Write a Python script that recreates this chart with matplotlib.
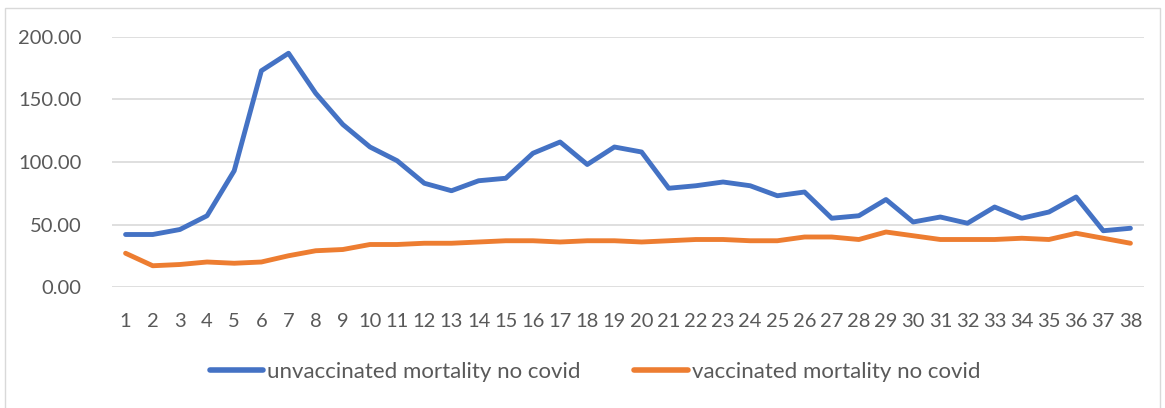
import matplotlib
matplotlib.use("Agg")
import matplotlib.pyplot as plt
from matplotlib.patches import Rectangle

weeks = list(range(1, 39))
unvaccinated = [42, 42, 46, 57, 93, 173, 187, 155, 130, 112, 101, 83, 77, 85, 87, 107,
                116, 98, 112, 108, 79, 81, 84, 81, 73, 76, 55, 57, 70, 52, 56, 51,
                64, 55, 60, 72, 45, 47]
vaccinated = [27, 17, 18, 20, 19, 20, 25, 29, 30, 34, 34, 35, 35, 36, 37, 37,
              36, 37, 37, 36, 37, 38, 38, 37, 37, 40, 40, 38, 44, 41, 38, 38,
              38, 39, 38, 43, 39, 35]
series_names = ["unvaccinated mortality no covid", "vaccinated mortality no covid"]
y_ticks = [0, 50, 100, 150, 200]

plt.rcParams["font.family"] = ["Lato", "DejaVu Sans"]
text_color = "#595959"

fig = plt.figure(figsize=(11.65, 4.08), dpi=100)
ax = fig.add_axes([112 / 1165, 1 - 287 / 408, (1144 - 112) / 1165, 250 / 408])

ax.plot(weeks, unvaccinated, color="#4472C4", lw=3.5, solid_joinstyle="round",
        solid_capstyle="round", label=series_names[0])
ax.plot(weeks, vaccinated, color="#ED7D31", lw=3.5, solid_joinstyle="round",
        solid_capstyle="round", label=series_names[1])

ax.set_xlim(0.5, 38.5)
ax.set_ylim(0, 200)
ax.set_yticks(y_ticks)
ax.set_yticklabels([f"{v:.2f}" for v in y_ticks])
ax.set_xticks(weeks)
ax.set_xticklabels([str(w) for w in weeks])
ax.tick_params(length=0, labelsize=14.5, colors=text_color)
ax.tick_params(axis="y", pad=22)
ax.tick_params(axis="x", pad=19)
ax.grid(axis="y", color="#d9d9d9", lw=1.2)
ax.set_axisbelow(True)
for s in ax.spines.values():
    s.set_visible(False)

leg = fig.legend(loc="center", bbox_to_anchor=(595 / 1165, 1 - 372 / 408), ncol=2,
                 frameon=False, fontsize=16, handlelength=2.4, handletextpad=0.2,
                 columnspacing=2.4)
for t in leg.get_texts():
    t.set_color(text_color)
for h in leg.legend_handles:
    h.set_linewidth(4)

# chart frame
fig.patches.append(Rectangle((5 / 1165, -0.05), 1155 / 1165, 1.05 - 8 / 408,
                             transform=fig.transFigure, fill=False,
                             edgecolor="#d9d9d9", lw=1))

fig.savefig("out.png", dpi=100)
